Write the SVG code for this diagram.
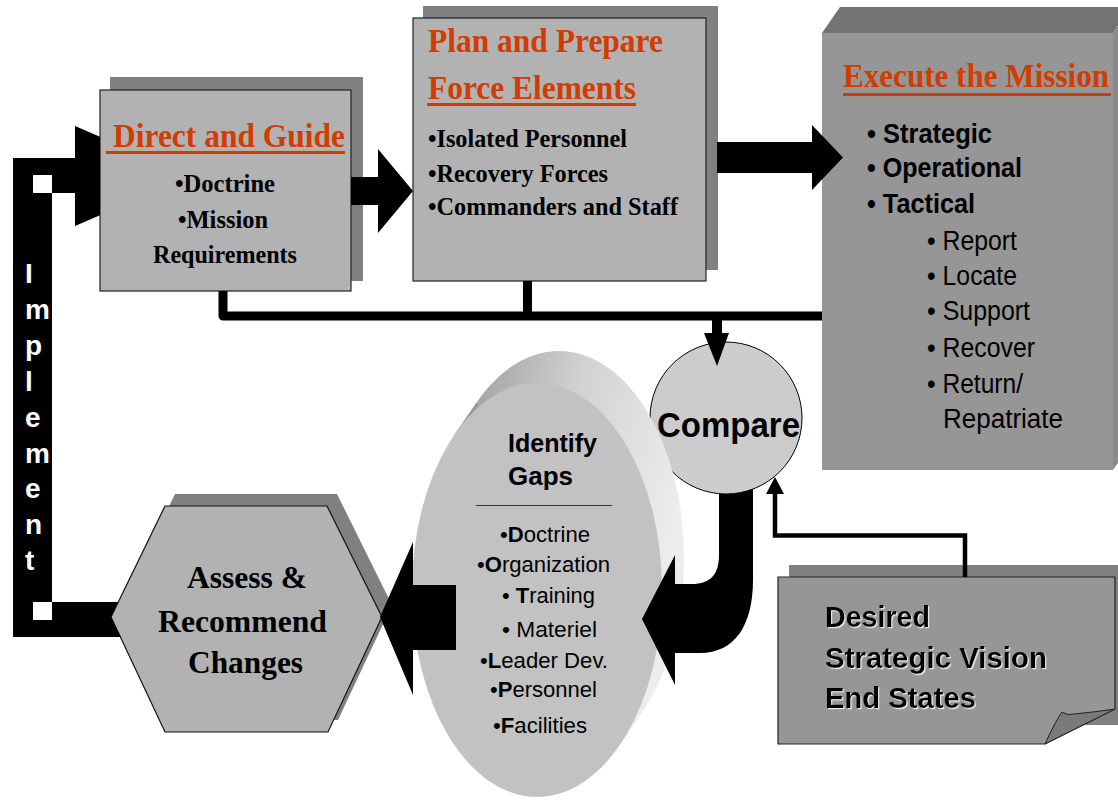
<svg xmlns="http://www.w3.org/2000/svg" width="1118" height="800" viewBox="0 0 1118 800">
<defs>
<style>
.shadow{fill:#808080}
.box{fill:#b2b2b2;stroke:#222;stroke-width:1.2}
.title{font-family:"Liberation Serif","Times New Roman",serif;font-weight:bold;fill:#d23c00}
.tb{font-family:"Liberation Serif","Times New Roman",serif;font-weight:bold;fill:#000}
.ab{font-family:"Liberation Sans",Arial,sans-serif;font-weight:bold;fill:#000}
.ar{font-family:"Liberation Sans",Arial,sans-serif;font-weight:normal;fill:#000}
.ul{fill:#d23c00}
.blk{fill:#000}
.line{fill:none;stroke:#000}
.imp{font-family:"Liberation Sans",Arial,sans-serif;font-weight:bold;fill:#fff;font-size:28px}
</style>
<linearGradient id="extr" x1="0" y1="0" x2="1" y2="0.35">
<stop offset="0" stop-color="#8f8f8f"/>
<stop offset="0.55" stop-color="#d2d2d2"/>
<stop offset="1" stop-color="#ededed"/>
</linearGradient>
<filter id="glow" x="-5%" y="-5%" width="110%" height="120%">
<feDropShadow dx="1.2" dy="1.2" stdDeviation="0.3" flood-color="#e8e8e8" flood-opacity="1"/>
</filter>
</defs>

<rect width="1118" height="800" fill="#fff"/>

<g id="direct-and-guide">
<rect class="shadow" x="110" y="77" width="253" height="204"/>
<rect class="box" x="100" y="90" width="251" height="201"/>
<text class="title" x="113" y="147" font-size="33" textLength="232" lengthAdjust="spacingAndGlyphs">Direct and Guide</text>
<rect class="ul" x="106" y="151" width="239" height="3"/>
<text class="tb" x="225" y="192" font-size="25" text-anchor="middle" textLength="100" lengthAdjust="spacingAndGlyphs">•Doctrine</text>
<text class="tb" x="223" y="228" font-size="25" text-anchor="middle" textLength="90" lengthAdjust="spacingAndGlyphs">•Mission</text>
<text class="tb" x="225" y="263" font-size="25" text-anchor="middle" textLength="144" lengthAdjust="spacingAndGlyphs">Requirements</text>
</g>

<g id="plan-and-prepare">
<rect class="shadow" x="423" y="6" width="295" height="264"/>
<rect class="box" x="413" y="18" width="293" height="263"/>
<text class="title" x="428" y="52" font-size="33" textLength="235" lengthAdjust="spacingAndGlyphs">Plan and Prepare</text>
<text class="title" x="428" y="99" font-size="33" textLength="208" lengthAdjust="spacingAndGlyphs">Force Elements</text>
<rect class="ul" x="427" y="103" width="209" height="3"/>
<text class="tb" x="428" y="147" font-size="25" textLength="199" lengthAdjust="spacingAndGlyphs">•Isolated Personnel</text>
<text class="tb" x="428" y="182" font-size="25" textLength="180" lengthAdjust="spacingAndGlyphs">•Recovery Forces</text>
<text class="tb" x="428" y="215" font-size="25" textLength="250" lengthAdjust="spacingAndGlyphs">•Commanders and Staff</text>
</g>

<g id="execute-the-mission">
<polygon points="822,33 840,7 1131,7 1113,33" fill="#737373"/>
<polygon points="1113,33 1131,7 1131,444 1113,470" fill="#8a8a8a"/>
<rect x="822" y="33" width="291" height="437" fill="#969696"/>
<text class="title" x="843" y="87" font-size="33" textLength="266" lengthAdjust="spacingAndGlyphs">Execute the Mission</text>
<rect class="ul" x="843" y="93" width="268" height="3"/>
<text class="ab" x="867" y="143" font-size="28" textLength="125" lengthAdjust="spacingAndGlyphs">• Strategic</text>
<text class="ab" x="867" y="177" font-size="28" textLength="155" lengthAdjust="spacingAndGlyphs">• Operational</text>
<text class="ab" x="867" y="213" font-size="28" textLength="108" lengthAdjust="spacingAndGlyphs">• Tactical</text>
<text class="ar" x="927" y="250" font-size="27" textLength="90" lengthAdjust="spacingAndGlyphs">• Report</text>
<text class="ar" x="927" y="285" font-size="27" textLength="90" lengthAdjust="spacingAndGlyphs">• Locate</text>
<text class="ar" x="927" y="320" font-size="27" textLength="103" lengthAdjust="spacingAndGlyphs">• Support</text>
<text class="ar" x="927" y="357" font-size="27" textLength="108" lengthAdjust="spacingAndGlyphs">• Recover</text>
<text class="ar" x="927" y="393" font-size="27" textLength="96" lengthAdjust="spacingAndGlyphs">• Return/</text>
<text class="ar" x="943" y="428" font-size="27" textLength="120" lengthAdjust="spacingAndGlyphs">Repatriate</text>
</g>

<g id="compare">
<circle cx="726" cy="418" r="76" fill="#cccccc" stroke="#000" stroke-width="1"/>
<text class="ab" x="728.5" y="437" font-size="35" text-anchor="middle" textLength="143" lengthAdjust="spacingAndGlyphs">Compare</text>
</g>

<g id="identify-gaps">
<ellipse cx="559" cy="558" rx="125" ry="207" fill="url(#extr)"/>
<polygon points="454.5,434.5 476.5,402.5 641.5,713.5 619.5,745.5" fill="url(#extr)"/>
<ellipse cx="537" cy="590" rx="125" ry="207" fill="#c2c2c2"/>
<text class="ab" x="508" y="452" font-size="26" textLength="89" lengthAdjust="spacingAndGlyphs">Identify</text>
<text class="ab" x="508" y="485" font-size="26" textLength="65" lengthAdjust="spacingAndGlyphs">Gaps</text>
<line x1="476" y1="505.5" x2="612" y2="505.5" stroke="#333" stroke-width="1"/>
<text class="ar" x="500" y="542" font-size="22" textLength="90" lengthAdjust="spacingAndGlyphs">•<tspan font-weight="bold">D</tspan>octrine</text>
<text class="ar" x="477" y="572" font-size="22" textLength="133" lengthAdjust="spacingAndGlyphs">•<tspan font-weight="bold">O</tspan>rganization</text>
<text class="ar" x="502" y="603" font-size="22" textLength="93" lengthAdjust="spacingAndGlyphs">• <tspan font-weight="bold">T</tspan>raining</text>
<text class="ar" x="502" y="637" font-size="22" textLength="95" lengthAdjust="spacingAndGlyphs">•  Materiel</text>
<text class="ar" x="480" y="668" font-size="22" textLength="128" lengthAdjust="spacingAndGlyphs">•<tspan font-weight="bold">L</tspan>eader Dev.</text>
<text class="ar" x="490" y="697" font-size="22" textLength="107" lengthAdjust="spacingAndGlyphs">•<tspan font-weight="bold">P</tspan>ersonnel</text>
<text class="ar" x="493" y="733" font-size="22" textLength="94" lengthAdjust="spacingAndGlyphs">•<tspan font-weight="bold">F</tspan>acilities</text>
</g>

<g id="assess-and-recommend">
<polygon class="shadow" points="175,494 337,494 392,605 338,720 175,720 121,605"/>
<polygon points="165,506 327,506 382,617 328,732 165,732 111,617" fill="#b2b2b2" stroke="#111" stroke-width="1.2"/>
<text class="tb" x="247" y="588" font-size="32" text-anchor="middle" textLength="120" lengthAdjust="spacingAndGlyphs">Assess &amp;</text>
<text class="tb" x="242.5" y="632" font-size="32" text-anchor="middle" textLength="169" lengthAdjust="spacingAndGlyphs">Recommend</text>
<text class="tb" x="245.5" y="673" font-size="32" text-anchor="middle" textLength="115" lengthAdjust="spacingAndGlyphs">Changes</text>
</g>

<g id="desired-strategic-vision">
<rect class="shadow" x="789" y="565" width="340" height="160"/>
<polygon points="778,577 1115,577 1115,709 1045,744 778,744" fill="#969696" stroke="#222" stroke-width="1.2"/>
<path d="M1045,744 Q1055,722 1062,712 Q1068,716 1074,714 Q1095,712 1115,709 Z" fill="#7a7a7a" stroke="#222" stroke-width="1"/>
<g filter="url(#glow)">
<text class="ab" x="825" y="627" font-size="30" textLength="105" lengthAdjust="spacingAndGlyphs">Desired</text>
<text class="ab" x="825" y="668" font-size="30" textLength="222" lengthAdjust="spacingAndGlyphs">Strategic Vision</text>
<text class="ab" x="825" y="708" font-size="30" textLength="151" lengthAdjust="spacingAndGlyphs">End States</text>
</g>
</g>

<g id="connectors">
<path class="blk" d="M13,158 L75,158 L75,126 L100,136.7 L100,215.3 L75,226 L75,193 L52,193 L52,602 L118.3,602 L111,617 L120.7,637 L13,637 Z"/>
<rect x="33" y="175" width="19" height="18" fill="#fff"/>
<rect x="33" y="602" width="19" height="18" fill="#fff"/>
<text class="imp"><tspan x="25" y="283">I</tspan><tspan x="25" y="319">m</tspan><tspan x="25" y="355">p</tspan><tspan x="25" y="391">l</tspan><tspan x="25" y="427">e</tspan><tspan x="25" y="463">m</tspan><tspan x="25" y="498">e</tspan><tspan x="25" y="534">n</tspan><tspan x="25" y="570">t</tspan></text>
<polygon class="blk" points="351,177 378,177 378,149 413,191 378,233 378,205 351,205"/>
<polygon class="blk" points="717,142 812,142 812,125 843,157.5 812,190 812,173 717,173"/>
<path class="line" d="M223,291 V316 H822" stroke-width="9" stroke-linejoin="round"/>
<path class="line" d="M527.5,281 V316" stroke-width="9"/>
<polygon class="blk" points="712,316 722,316 722,333 729,333 717,366 704,333 712,333"/>
<path class="line" d="M965,577 V535.5 H775 V494" stroke-width="4.5" stroke-linejoin="miter"/>
<polygon class="blk" points="766,494 784,494 775,477"/>
<path class="blk" d="M719,493.7 A76,76 0 0 0 753,489 L753,580 C753,625 735,653 700,653 L675,653 L675,685 L642,619 L675,555 L675,584 L692,584 C710,584 719,575 719,555 Z"/>
<polygon class="blk" points="456,585 456,650 413,650 413,695 380,617 413,542 413,585"/>
</g>
</svg>
